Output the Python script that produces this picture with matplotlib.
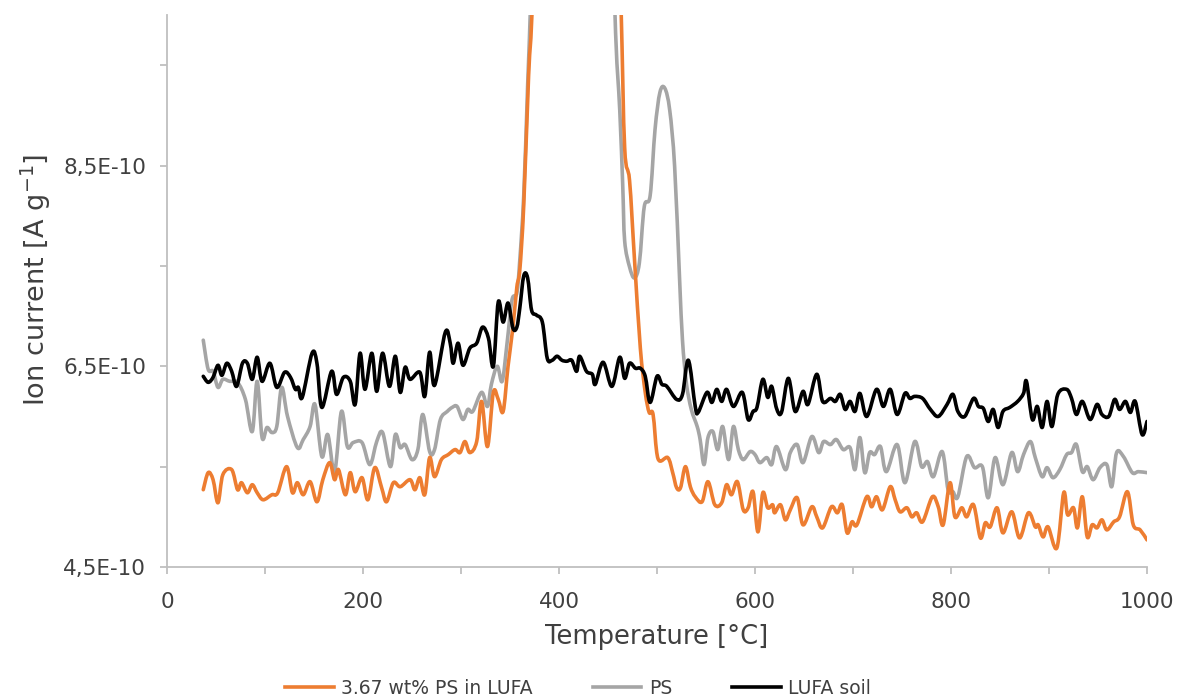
import matplotlib
matplotlib.use("Agg")
import numpy as np
import matplotlib.pyplot as plt
from matplotlib.ticker import FuncFormatter, MultipleLocator, FixedLocator
from matplotlib.path import Path
from matplotlib.patches import PathPatch
from matplotlib.lines import Line2D

plt.rcParams['font.family'] = ['DejaVu Sans']

UNIT = 1e-10

# ---------------- data (values in units of 1E-10 A g^-1) ----------------
lufa_T = [37, 42, 47, 52, 56, 61, 66, 71, 77, 82, 87, 92, 97, 105, 112, 120, 126, 131, 134, 138,
          148, 153, 158, 168, 173, 180, 187, 192, 197, 202, 209, 214, 220, 227, 233, 238, 243, 248,
          258, 263, 268, 273, 284, 289, 292, 297, 302, 309, 316, 322, 328, 333, 338, 343, 348, 353,
          357, 360, 364, 368, 372, 377, 383, 388, 393, 398, 403, 408, 413, 418, 421, 428, 434, 437,
          445, 454, 462, 467, 472, 478, 483, 488, 493, 500, 505, 510, 520, 526, 532, 539, 542, 551,
          556, 561, 566, 571, 578, 587, 593, 598, 602, 608, 613, 617, 622, 627, 634, 641, 649, 654,
          663, 669, 677, 682, 687, 692, 697, 702, 707, 714, 724, 731, 738, 745, 753, 758, 763, 771,
          779, 787, 796, 802, 807, 814, 823, 828, 833, 838, 843, 848, 853, 860, 868, 874, 877, 883,
          888, 893, 898, 903, 909, 918, 923, 928, 934, 942, 949, 954, 961, 967, 972, 978, 983, 988,
          995, 1000]
lufa_v = [6.40, 6.34, 6.39, 6.51, 6.41, 6.53, 6.45, 6.30, 6.53, 6.53, 6.37, 6.59, 6.35, 6.53, 6.29,
          6.44, 6.39, 6.27, 6.29, 6.19, 6.63, 6.53, 6.09, 6.45, 6.22, 6.39, 6.35, 6.12, 6.63, 6.27,
          6.63, 6.25, 6.63, 6.30, 6.60, 6.24, 6.49, 6.37, 6.44, 6.20, 6.64, 6.31, 6.84, 6.73, 6.53,
          6.73, 6.51, 6.68, 6.73, 6.89, 6.78, 6.50, 7.14, 6.94, 7.13, 6.88, 6.89, 7.08, 7.40, 7.38,
          7.06, 7.01, 6.94, 6.58, 6.56, 6.60, 6.56, 6.55, 6.56, 6.45, 6.60, 6.45, 6.42, 6.32, 6.54,
          6.30, 6.59, 6.38, 6.53, 6.48, 6.48, 6.40, 6.14, 6.40, 6.32, 6.30, 6.17, 6.22, 6.56, 6.10,
          6.04, 6.24, 6.14, 6.27, 6.15, 6.27, 6.10, 6.24, 5.97, 6.05, 6.09, 6.37, 6.19, 6.30, 6.08,
          6.04, 6.38, 6.05, 6.25, 6.12, 6.42, 6.15, 6.18, 6.15, 6.22, 6.07, 6.15, 6.05, 6.23, 6.00,
          6.27, 6.10, 6.27, 6.02, 6.23, 6.18, 6.20, 6.18, 6.07, 6.00, 6.12, 6.22, 6.05, 6.00, 6.18,
          6.10, 6.08, 5.95, 6.07, 5.89, 6.05, 6.09, 6.15, 6.23, 6.35, 5.97, 6.10, 5.89, 6.15, 5.90,
          6.22, 6.27, 6.18, 6.02, 6.15, 5.97, 6.12, 6.02, 6.00, 6.17, 6.07, 6.15, 6.04, 6.15, 5.82,
          5.95]

ps_T = [37, 42, 47, 52, 57, 64, 72, 80, 87, 92, 97, 102, 107, 112, 117, 123, 133, 139, 146, 151,
        158, 164, 171, 178, 184, 190, 199, 207, 214, 220, 228, 233, 238, 243, 250, 256, 261, 268,
        273, 279, 286, 291, 296, 302, 307, 312, 321, 327, 331, 337, 342, 347, 352, 357, 360, 364,
        368, 372, 380, 450, 457, 462, 465, 467, 472, 477, 482, 487, 493, 498, 503, 508, 513, 518,
        523, 526, 530, 535, 541, 544, 548, 552, 557, 562, 567, 573, 578, 583, 588, 595, 600, 605,
        612, 617, 622, 631, 636, 643, 649, 658, 665, 670, 677, 683, 690, 697, 702, 707, 712, 717,
        722, 728, 734, 745, 753, 763, 770, 776, 782, 791, 797, 802, 807, 816, 824, 832, 838, 845,
        853, 862, 868, 874, 881, 886, 893, 898, 904, 911, 918, 923, 928, 934, 939, 945, 952, 959,
        964, 969, 976, 985, 991, 1000]
ps_v = [6.76, 6.47, 6.45, 6.29, 6.37, 6.35, 6.34, 6.17, 5.85, 6.35, 5.79, 5.89, 5.84, 5.90, 6.29,
        6.00, 5.69, 5.77, 5.90, 6.12, 5.60, 5.82, 5.45, 6.05, 5.70, 5.74, 5.74, 5.52, 5.75, 5.84,
        5.50, 5.82, 5.69, 5.72, 5.57, 5.67, 6.02, 5.65, 5.67, 5.97, 6.05, 6.09, 6.10, 5.97, 6.07,
        6.05, 6.24, 6.10, 6.32, 6.50, 6.35, 6.73, 7.16, 7.23, 7.56, 8.20, 9.30, 10.40, 13.0, 13.0,
        10.05, 9.05, 8.31, 7.75, 7.49, 7.38, 7.53, 8.09, 8.20, 8.86, 9.23, 9.27, 9.05, 8.49, 7.38,
        6.76, 6.33, 6.07, 5.90, 5.77, 5.52, 5.79, 5.85, 5.67, 5.90, 5.57, 5.90, 5.67, 5.57, 5.65,
        5.62, 5.54, 5.59, 5.52, 5.70, 5.47, 5.64, 5.72, 5.54, 5.80, 5.64, 5.75, 5.72, 5.77, 5.67,
        5.69, 5.47, 5.79, 5.44, 5.64, 5.62, 5.70, 5.45, 5.72, 5.34, 5.75, 5.50, 5.55, 5.40, 5.65,
        5.27, 5.25, 5.20, 5.60, 5.49, 5.50, 5.19, 5.59, 5.32, 5.64, 5.45, 5.62, 5.75, 5.59, 5.40,
        5.49, 5.39, 5.47, 5.62, 5.64, 5.72, 5.45, 5.50, 5.37, 5.49, 5.52, 5.30, 5.64, 5.60, 5.44,
        5.45, 5.44]

mix_T = [37, 42, 47, 52, 57, 66, 72, 76, 82, 87, 92, 98, 107, 113, 122, 128, 133, 139, 146, 153,
         159, 166, 171, 175, 182, 187, 192, 199, 205, 212, 219, 224, 231, 238, 248, 253, 258, 263,
         268, 273, 280, 287, 294, 299, 304, 309, 316, 321, 327, 333, 338, 343, 348, 353, 357, 360,
         364, 369, 373, 380, 455, 463, 467, 472, 477, 483, 488, 492, 496, 501, 511, 516, 520, 524,
         529, 534, 539, 546, 552, 559, 566, 571, 576, 582, 588, 593, 598, 603, 608, 613, 618, 620,
         626, 631, 636, 643, 649, 658, 663, 669, 678, 684, 689, 694, 699, 704, 714, 719, 724, 730,
         738, 743, 748, 755, 760, 765, 771, 781, 787, 792, 799, 804, 811, 816, 823, 830, 835, 840,
         847, 853, 862, 870, 879, 886, 889, 894, 899, 908, 915, 919, 925, 929, 934, 939, 944, 949,
         954, 959, 966, 972, 980, 986, 993, 1000]
mix_v = [5.27, 5.44, 5.37, 5.14, 5.42, 5.47, 5.27, 5.34, 5.24, 5.32, 5.24, 5.17, 5.22, 5.24, 5.50,
         5.24, 5.34, 5.22, 5.35, 5.15, 5.37, 5.54, 5.37, 5.47, 5.22, 5.44, 5.25, 5.39, 5.17, 5.49,
         5.29, 5.15, 5.34, 5.30, 5.37, 5.27, 5.39, 5.22, 5.59, 5.40, 5.57, 5.62, 5.67, 5.64, 5.75,
         5.64, 5.75, 6.15, 5.70, 6.24, 6.17, 6.05, 6.50, 6.89, 7.29, 7.46, 8.10, 9.40, 10.20, 13.0,
         13.0, 10.20, 8.68, 8.35, 7.57, 6.68, 6.24, 6.04, 6.02, 5.58, 5.59, 5.44, 5.29, 5.29, 5.50,
         5.30, 5.20, 5.15, 5.35, 5.12, 5.14, 5.32, 5.22, 5.35, 5.07, 5.09, 5.25, 4.85, 5.24, 5.09,
         5.12, 5.04, 5.12, 4.97, 5.07, 5.19, 4.92, 5.10, 5.00, 4.89, 5.10, 5.04, 5.12, 4.84, 4.95,
         4.92, 5.20, 5.10, 5.20, 5.07, 5.30, 5.17, 5.05, 5.09, 5.00, 5.04, 4.95, 5.20, 5.10, 4.92,
         5.34, 5.00, 5.09, 5.00, 5.12, 4.79, 4.94, 4.90, 5.09, 4.84, 5.05, 4.79, 5.04, 4.90, 4.92,
         4.80, 4.90, 4.69, 5.24, 5.02, 5.09, 4.89, 5.20, 4.80, 4.92, 4.89, 4.97, 4.87, 4.95, 5.00,
         5.25, 4.92, 4.87, 4.77]

series_names = ["3.67 wt% PS in LUFA", "PS", "LUFA soil"]
series_colors = ["#ED7D31", "#A5A5A5", "#000000"]
y_major_ticks = [4.5, 6.5, 8.5]
y_minor_ticks = [5.5, 7.5, 9.5]

# ---------------- figure ----------------
W, H = 1178, 697
fig = plt.figure(figsize=(W / 100, H / 100), dpi=100)
ax = fig.add_axes([167 / W, 1 - 567 / H, (1147 - 167) / W, (567 - 15) / H])

text_col = "#404040"
axis_col = "#BFBFBF"
LW = 2.6


def smooth_path(xs, ys):
    """Excel-like smoothed line through the data points (Catmull-Rom as cubic Bezier)."""
    x = np.asarray(xs, float)
    y = np.asarray(ys, float)
    n = len(x)
    verts = [(x[0], y[0])]
    codes = [Path.MOVETO]
    for i in range(n - 1):
        x0, y0 = (x[i - 1], y[i - 1]) if i > 0 else (x[i], y[i])
        x1, y1 = x[i], y[i]
        x2, y2 = x[i + 1], y[i + 1]
        x3, y3 = (x[i + 2], y[i + 2]) if i + 2 < n else (x[i + 1], y[i + 1])
        c1x = np.clip(x1 + (x2 - x0) / 6.0, x1, x2)
        c1y = y1 + (y2 - y0) / 6.0
        c2x = np.clip(x2 - (x3 - x1) / 6.0, x1, x2)
        c2y = y2 - (y3 - y1) / 6.0
        verts += [(c1x, c1y), (c2x, c2y), (x2, y2)]
        codes += [Path.CURVE4, Path.CURVE4, Path.CURVE4]
    return Path(verts, codes)


for T, v, col, z in [(mix_T, mix_v, series_colors[0], 3),
                     (ps_T, ps_v, series_colors[1], 2),
                     (lufa_T, lufa_v, series_colors[2], 4)]:
    p = smooth_path(T, [vv * UNIT for vv in v])
    ax.add_patch(PathPatch(p, facecolor="none", edgecolor=col, lw=LW,
                           joinstyle="round", capstyle="round", zorder=z))

ax.set_xlim(0, 1000)
ax.set_ylim(4.5e-10, 10.0e-10)

ax.xaxis.set_major_locator(MultipleLocator(200))
ax.xaxis.set_minor_locator(MultipleLocator(100))
ax.yaxis.set_major_locator(FixedLocator([t * UNIT for t in y_major_ticks]))
ax.yaxis.set_minor_locator(FixedLocator([t * UNIT for t in y_minor_ticks]))


def yfmt(v, pos):
    return ("%.1fE-10" % (v / UNIT)).replace(".", ",")


ax.yaxis.set_major_formatter(FuncFormatter(yfmt))
ax.xaxis.set_major_formatter(FuncFormatter(lambda v, p: "%d" % round(v)))

for s in ["top", "right"]:
    ax.spines[s].set_visible(False)
for s in ["left", "bottom"]:
    ax.spines[s].set_color(axis_col)
    ax.spines[s].set_linewidth(1.3)

ax.tick_params(axis="both", which="both", direction="out", color=axis_col,
               width=1.3, length=5, labelcolor=text_col, labelsize=15.5)
ax.tick_params(axis="x", which="major", pad=13)
ax.tick_params(axis="y", which="major", pad=10)

ax.set_xlabel("Temperature [°C]", fontsize=18.5, color=text_col, labelpad=9)
ax.set_ylabel(r"Ion current [A g$^{-1}$]", fontsize=19.5, color=text_col, labelpad=10)
ax.yaxis.set_label_coords(-0.116, 0.52)

handles = [Line2D([], [], color=c, lw=LW) for c in series_colors]
fig.legend(handles, series_names, loc="center", bbox_to_anchor=(578 / W, 1 - 688 / H), ncol=3,
           frameon=False, fontsize=13.5, handlelength=2.6, handletextpad=0.4, columnspacing=3.2,
           labelcolor=text_col)

fig.savefig("out.png", dpi=100)
